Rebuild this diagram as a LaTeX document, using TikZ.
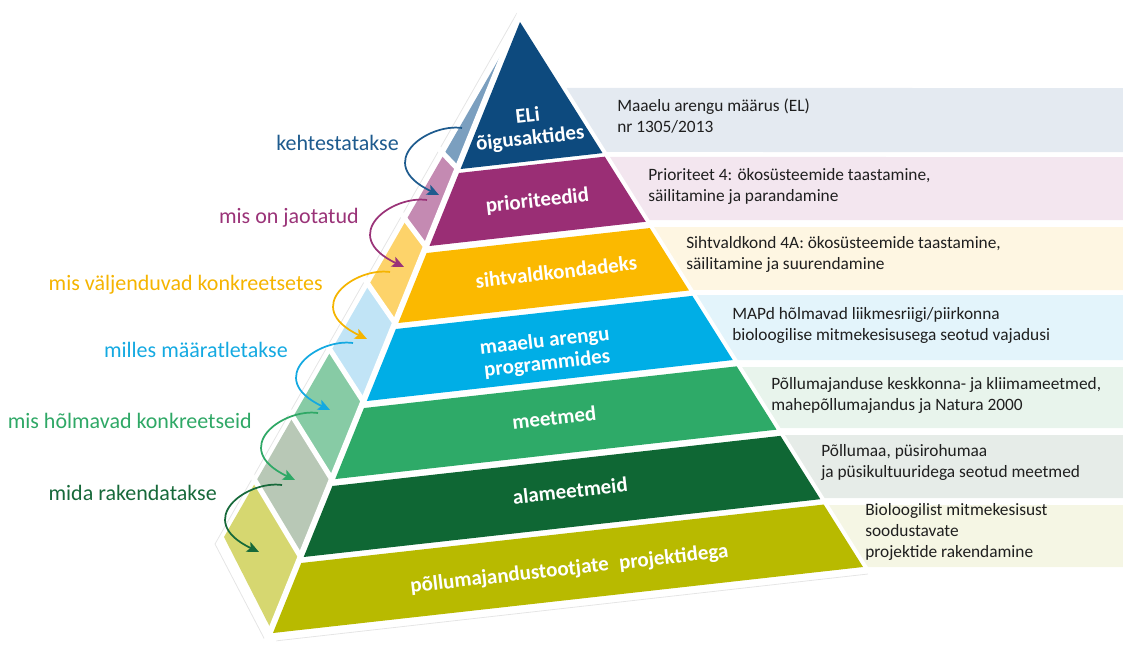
\documentclass[tikz,border=0pt]{standalone}
\usepackage{fontspec}
\setmainfont{Carlito}
\usetikzlibrary{calc,arrows.meta}

% tier colours: front face, side face, info box
\definecolor{eliF}{HTML}{0D4A7E}\definecolor{eliS}{HTML}{7B9FBF}\definecolor{eliB}{HTML}{E4EAF1}
\definecolor{priF}{HTML}{9A2E75}\definecolor{priS}{HTML}{C48AB2}\definecolor{priB}{HTML}{F3E6EF}
\definecolor{yelF}{HTML}{FBB900}\definecolor{yelS}{HTML}{FDD36A}\definecolor{yelB}{HTML}{FEF6E2}
\definecolor{bluF}{HTML}{00AEE6}\definecolor{bluS}{HTML}{C1E4F6}\definecolor{bluB}{HTML}{E3F4FB}
\definecolor{grnF}{HTML}{2EAA68}\definecolor{grnS}{HTML}{87CBA5}\definecolor{grnB}{HTML}{E8F4EC}
\definecolor{dkgF}{HTML}{0F6734}\definecolor{dkgS}{HTML}{B8C8B6}\definecolor{dkgB}{HTML}{E6ECE8}
\definecolor{olvF}{HTML}{B8BA00}\definecolor{olvS}{HTML}{D6D770}\definecolor{olvB}{HTML}{F5F6E4}
% colours of the linking phrases and their arrows
\definecolor{lnkEli}{HTML}{1E5B8E}
\definecolor{lnkPri}{HTML}{9A3378}
\definecolor{lnkYel}{HTML}{F5B400}
\definecolor{lnkBlu}{HTML}{14A9E1}
\definecolor{lnkGrn}{HTML}{2FA866}
\definecolor{lnkDkg}{HTML}{17693A}

\begin{document}
\begin{tikzpicture}[x=0.75pt,y=-0.75pt,
  tierlbl/.style={text=white, font=\bfseries\fontsize{15.75}{17}\selectfont,
                  rotate=6.4, anchor=base, inner sep=0pt, align=center},
  linklbl/.style={font=\fontsize{16.5}{20}\selectfont, anchor=base east, inner sep=0pt},
  infotxt/.style={font=\fontsize{13}{16.1}\selectfont, text=black!88,
                  anchor=base west, inner sep=0pt},
  curlyarrow/.style={line width=1.3pt, -{Stealth[length=9pt,width=8pt,inset=2pt]}},
  gapline/.style={white, line width=#1},
]
\useasboundingbox (0,0) rectangle (1123,646);

% pyramid frame: apex, front-left, front-right and back-left corners
\coordinate (A)  at (520,22);
\coordinate (LB) at (273,633);
\coordinate (RB) at (863,567);
\coordinate (BB) at (224,537);

% faint outline around the pyramid
\draw[black!10, line width=0.6pt] (517,13) -- (215,544) -- (266,642) -- (868,574);

% info boxes to the right of the pyramid
\foreach \yt/\yb/\c in {88/152/eliB, 157/220/priB, 227/290/yelB, 295/360/bluB,
                        367/428/grnB, 435/498/dkgB, 505/567/olvB}{
  \fill[\c] ($(A)!{(\yt-22)/545}!(RB)+(5,0)$) -- (1123,\yt) -- (1123,\yb)
            -- ($(A)!{(\yb-22)/545}!(RB)+(5,0)$) -- cycle;
}

% side face tiles
\foreach \ta/\tb/\ba/\bb/\c in {0/0.2439/0/0.257/eliS, 0.2439/0.3724/0.257/0.385/priS,
    0.3724/0.4976/0.385/0.511/yelS, 0.4976/0.6261/0.511/0.639/bluS,
    0.6261/0.7537/0.639/0.767/grnS, 0.7537/0.8805/0.767/0.893/dkgS,
    0.8805/1/0.893/1/olvS}{
  \fill[\c] ($(A)!\ta!(LB)$) -- ($(A)!\tb!(LB)$) -- ($(A)!\bb!(BB)$) -- ($(A)!\ba!(BB)$) -- cycle;
}
% white gaps between the side tiles
\foreach \m/\b in {0.2439/0.257, 0.3724/0.385, 0.4976/0.511, 0.6261/0.639, 0.7537/0.767, 0.8805/0.893}{
  \coordinate (p) at ($(A)!\m!(LB)$);
  \coordinate (q) at ($(A)!\b!(BB)$);
  \draw[gapline=3.9pt] (p) -- ($(p)!1.4!(q)$);
}
% white gap between the side face and the front face
\draw[gapline=9pt] ($(A)!-0.02!(LB)$) -- ($(A)!1.02!(LB)$);

% front face tiers
\foreach \ta/\tb/\c in {0/0.2406/eliF, 0.2471/0.3666/priF, 0.3781/0.4926/yelF,
    0.5025/0.6203/bluF, 0.6318/0.7480/grnF, 0.7594/0.8756/dkgF, 0.8854/1/olvF}{
  \fill[\c] ($(A)!\ta!(LB)$) -- ($(A)!\ta!(RB)$) -- ($(A)!\tb!(RB)$) -- ($(A)!\tb!(LB)$) -- cycle;
}

% tier names
\node[tierlbl, anchor=center] (eli) at (529,128) {ELi\\õigusaktides};
\node[tierlbl] (pri)  at (538,207) {prioriteedid};
\node[tierlbl] (yel)  at (557,279) {sihtvaldkondadeks};
\node[tierlbl, anchor=center] (blu) at (546,353) {maaelu arengu\\programmides};
\node[tierlbl] (grn)  at (555,425) {meetmed};
\node[tierlbl] (dkg)  at (571,498) {alameetmeid};
\node[tierlbl] (olv)  at (570,575) {põllumajandustootjate\hspace{0.5em}projektidega};

% info texts
\node[infotxt] (iEli) at (617,111) {\begin{tabular}[t]{@{}l@{}}Maaelu arengu määrus (EL)\\ nr 1305/2013\end{tabular}};
\node[infotxt] (iPri) at (648,180) {\begin{tabular}[t]{@{}l@{}}Prioriteet 4: ökosüsteemide taastamine,\\ säilitamine ja parandamine\end{tabular}};
\node[infotxt] (iYel) at (686,248) {\begin{tabular}[t]{@{}l@{}}Sihtvaldkond 4A: ökosüsteemide taastamine,\\ säilitamine ja suurendamine\end{tabular}};
\node[infotxt] (iBlu) at (732,319) {\begin{tabular}[t]{@{}l@{}}MAPd hõlmavad liikmesriigi/piirkonna\\ bioloogilise mitmekesisusega seotud vajadusi\end{tabular}};
\node[infotxt] (iGrn) at (771,389) {\begin{tabular}[t]{@{}l@{}}Põllumajanduse keskkonna- ja kliimameetmed,\\ mahepõllumajandus ja Natura 2000\end{tabular}};
\node[infotxt] (iDkg) at (821,456) {\begin{tabular}[t]{@{}l@{}}Põllumaa, püsirohumaa\\ ja püsikultuuridega seotud meetmed\end{tabular}};
\node[infotxt] (iOlv) at (865,515) {\begin{tabular}[t]{@{}l@{}}Bioloogilist mitmekesisust\\ soodustavate\\ projektide rakendamine\end{tabular}};

% linking phrases on the left
\node[linklbl, text=lnkEli] (kEli) at (399,150) {kehtestatakse};
\node[linklbl, text=lnkPri] (kPri) at (359,223) {mis on jaotatud};
\node[linklbl, text=lnkYel] (kYel) at (323,290) {mis väljenduvad konkreetsetes};
\node[linklbl, text=lnkBlu] (kBlu) at (288,357) {milles määratletakse};
\node[linklbl, text=lnkGrn] (kGrn) at (252,428) {mis hõlmavad konkreetseid};
\node[linklbl, text=lnkDkg] (kDkg) at (217,500) {mida rakendatakse};

% curved arrows from one side tile down to the next
\foreach \i/\x/\y/\c in {1/462/128/lnkEli, 2/427/200/lnkPri, 3/390/272/lnkYel,
                         4/353/343/lnkBlu, 5/318/413/lnkGrn, 6/282/485/lnkDkg}{
  \coordinate (s\i) at (\x,\y);
  \coordinate (e\i) at ($(s\i)+(-23,67)$);
  \draw[curlyarrow, \c] (s\i) .. controls ($(s\i)+(-35,-5)$) and ($(s\i)+(-90,35)$) .. (e\i);
}
\end{tikzpicture}
\end{document}
